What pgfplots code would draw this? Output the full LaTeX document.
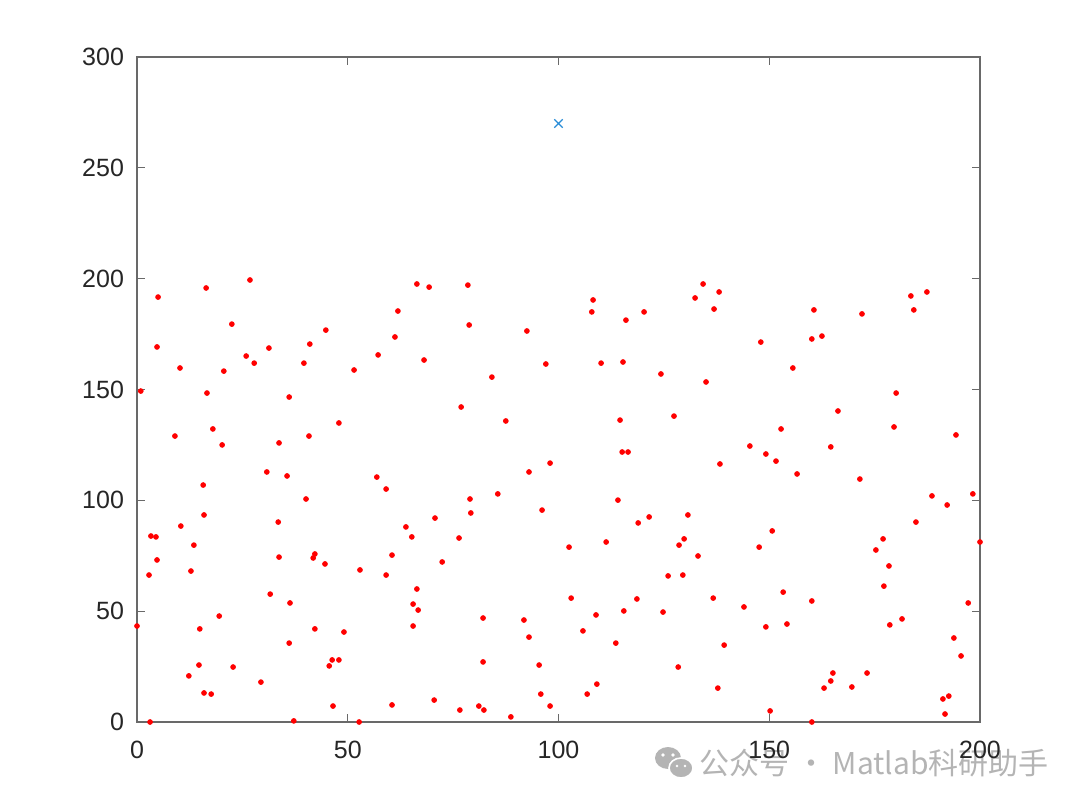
\documentclass[border=0pt]{standalone}
\usepackage{pgfplots}
\pgfplotsset{compat=1.18}
\usepackage{fontspec}
\setmainfont{Liberation Sans}
\newfontfamily\cjk{Noto Sans CJK SC}
\definecolor{axgray}{RGB}{105,105,105}
\definecolor{lab}{RGB}{38,38,38}
\definecolor{mblue}{RGB}{40,140,215}
\definecolor{wm}{RGB}{180,180,180}
\begin{document}
\begin{tikzpicture}
\useasboundingbox (-68.5pt,-41pt) rectangle (471.5pt,361pt);
% watermark
\fill[wm] (265.5pt,-18pt) ellipse [x radius=6.5pt, y radius=5.5pt];
\fill[white] (263pt,-16.5pt) circle (0.9pt) (268pt,-16.5pt) circle (0.9pt);
\filldraw[wm, draw=white, line width=0.8pt] (272pt,-23pt) ellipse [x radius=6pt, y radius=5pt];
\fill[white] (270pt,-22pt) circle (0.7pt) (274pt,-22pt) circle (0.7pt);
\node[anchor=west, inner sep=0pt, text=wm, font=\cjk\fontsize{15pt}{15pt}\selectfont] at (281pt,-20.5pt) {公众号 · Matlab科研助手};
\begin{axis}[
  at={(0,0)}, anchor=south west, scale only axis,
  width=421.5pt, height=332.5pt,
  xmin=0, xmax=200, ymin=0, ymax=300,
  xtick={0,50,...,200}, ytick={0,50,...,300},
  tick align=inside, major tick length=4pt,
  axis line style={axgray, line width=0.6pt},
  tick style={axgray, line width=0.6pt},
  every tick label/.append style={font=\fontsize{12.5pt}{14pt}\selectfont, text=lab},
  /pgf/number format/assume math mode=true,
  xticklabel style={yshift=-6pt},
  yticklabel style={xshift=-3pt},
  clip=false,
]
\addplot[only marks, mark=*, mark size=1.2pt, red, mark options={draw=red, fill=red}] coordinates {
(0.9,149.3) (0,43.3) (2.85,66.3) (3.3,83.9) (4.5,83.5) (5.0,191.7) (4.75,169.2) (4.75,73.1)
(3.1,0) (9.0,129.0) (10.2,159.7) (10.4,88.4) (12.3,20.8) (12.8,68.1) (13.5,79.8) (14.7,25.7)
(14.9,42.0) (15.7,106.9) (15.9,93.4) (16.4,195.8) (15.9,13.1) (16.6,148.4) (17.6,12.6) (18.0,132.2)
(19.5,47.8) (20.2,125.0) (20.6,158.3) (22.5,179.5) (22.8,24.8) (25.9,165.1) (26.8,199.4) (27.8,161.9)
(29.4,18.0) (30.8,112.8) (31.3,168.7) (31.6,57.7) (33.5,90.2) (33.7,125.9) (33.7,74.4) (35.6,111.0)
(36.1,146.6) (36.3,53.7) (36.1,35.6) (37.2,0.5) (40.1,100.6) (39.6,161.9) (41.0,170.5) (40.8,129.0)
(41.8,74.0) (42.2,75.8) (42.2,42.0) (44.6,71.3) (44.8,176.8) (45.6,25.3) (46.3,28.0) (46.5,7.2)
(47.9,28.0) (47.9,134.9) (49.1,40.6) (51.5,158.8) (52.9,68.6) (52.7,0) (56.9,110.5) (57.2,165.6)
(59.1,66.3) (59.1,105.1) (60.5,7.7) (60.5,75.3) (61.2,173.7) (61.9,185.4) (63.8,88.0) (65.2,83.5)
(65.5,53.2) (65.5,43.3) (66.4,60.0) (66.7,50.5) (66.4,197.6) (68.1,163.3) (69.3,196.2) (70.5,9.9)
(70.7,92.0) (72.4,72.2) (76.4,83.0) (76.9,142.1) (76.6,5.4) (78.5,197.1) (78.8,179.1) (79.0,100.6)
(79.2,94.3) (81.1,7.2) (82.1,46.9) (82.1,27.1) (82.3,5.4) (84.2,155.6) (85.6,102.9) (87.5,135.8)
(88.7,2.3) (91.8,46.0) (92.5,176.4) (93.0,112.8) (93.0,38.3) (95.4,25.7) (96.1,95.6) (95.8,12.6)
(97.0,161.5) (98.0,116.8) (98.0,7.2) (102.5,78.9) (103.0,55.9) (105.8,41.1) (106.8,12.6) (107.9,185.0)
(108.2,190.4) (108.9,48.3) (109.1,17.1) (110.1,161.9) (111.3,81.2) (113.6,35.6) (114.1,100.1) (114.6,136.2)
(115.3,162.4) (115.1,121.8) (115.5,50.1) (116.5,121.8) (116.0,181.3) (118.6,55.5) (118.9,89.8) (120.3,185.0)
(121.5,92.5) (124.3,157.0) (124.8,49.6) (126.0,65.9) (127.4,138.0) (128.4,24.8) (128.6,79.8) (129.8,82.6)
(129.5,66.3) (130.7,93.4) (132.4,191.3) (133.1,74.9) (134.3,197.6) (135.0,153.4) (136.9,186.3) (136.7,55.9)
(138.1,194.0) (138.3,116.4) (137.8,15.3) (139.3,34.7) (144.0,51.9) (145.4,124.5) (147.6,78.9) (148.0,171.4)
(149.2,120.9) (149.2,42.9) (150.2,5.0) (150.7,86.2) (151.6,117.7) (152.8,132.2) (153.3,58.6) (154.2,44.2)
(155.6,159.7) (156.6,111.9) (160.1,54.6) (160.1,0) (160.1,172.8) (160.6,185.9) (162.5,174.1) (163.0,15.3)
(164.6,18.5) (165.1,22.1) (164.6,124.1) (166.3,140.3) (169.6,15.8) (171.5,109.6) (172.0,184.1) (173.2,22.1)
(175.3,77.6) (177.0,82.6) (177.2,61.3) (178.4,70.4) (178.6,43.8) (179.6,133.1) (180.1,148.4) (181.5,46.5)
(183.6,192.2) (184.3,185.9) (184.8,90.2) (187.4,194.0) (188.6,102.0) (191.2,10.4) (191.7,3.6) (192.2,97.9)
(192.6,11.7) (193.8,37.9) (194.3,129.5) (195.5,29.8) (197.2,53.7) (198.3,102.9) (200.0,81.2)
};
\addplot[only marks, mark=x, mark size=3pt, mblue, line width=0.55pt] coordinates {(100,270)};
\end{axis}
\end{tikzpicture}
\end{document}
